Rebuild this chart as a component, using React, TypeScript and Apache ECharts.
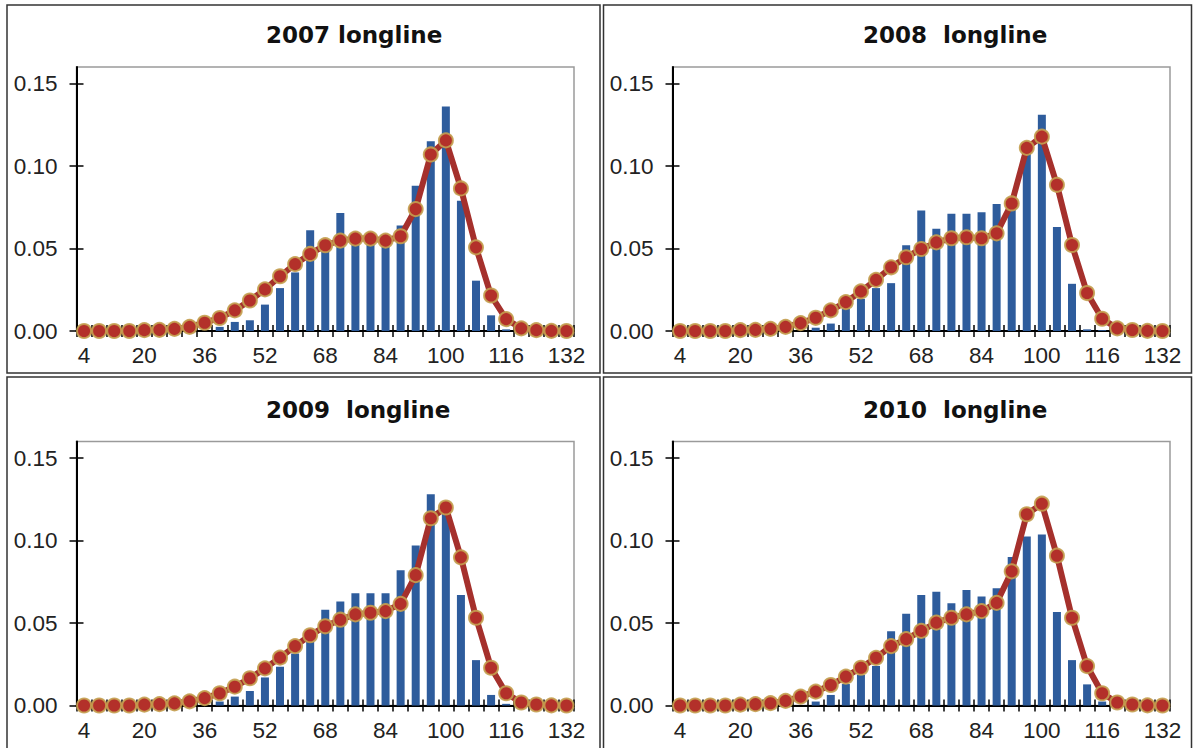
import React, { useEffect, useRef } from "react";
import * as echarts from "echarts";

// Size classes (category axis)
const sizeClasses = [
  "4", "8", "12", "16", "20", "24", "28", "32", "36", "40", "44",
  "48", "52", "56", "60", "64", "68", "72", "76", "80", "84", "88",
  "92", "96", "100", "104", "108", "112", "116", "120", "124", "128", "132",
];

const yTicks = [0, 0.05, 0.1, 0.15];

const panelTitles = ["2007 longline", "2008  longline", "2009  longline", "2010  longline"];

// Observed proportions (bars)
const obs2007 = [
  0, 0, 0, 0, 0, 0, 0, 0, 0, 0.0025, 0.0055,
  0.0065, 0.016, 0.026, 0.0355, 0.061, 0.049, 0.0715, 0.053, 0.053, 0.051, 0.064,
  0.088, 0.115, 0.136, 0.079, 0.0305, 0.0095, 0.001, 0, 0, 0, 0,
];
const obs2008 = [
  0, 0, 0, 0, 0, 0, 0, 0, 0, 0.002, 0.0045,
  0.0135, 0.0195, 0.026, 0.029, 0.052, 0.073, 0.062, 0.071, 0.071, 0.072, 0.077,
  0.074, 0.108, 0.131, 0.063, 0.0286, 0.001, 0.0005, 0, 0, 0, 0,
];
const obs2009 = [
  0, 0, 0, 0, 0, 0, 0, 0, 0, 0.0024, 0.0054,
  0.0088, 0.017, 0.0235, 0.0315, 0.0386, 0.058, 0.063, 0.068, 0.068, 0.068, 0.082,
  0.097, 0.128, 0.116, 0.067, 0.0275, 0.0064, 0.001, 0, 0, 0, 0,
];
const obs2010 = [
  0, 0, 0, 0, 0, 0, 0, 0, 0, 0.0024, 0.0064,
  0.013, 0.0185, 0.024, 0.045, 0.0556, 0.067, 0.069, 0.062, 0.07, 0.066, 0.071,
  0.09, 0.1024, 0.1036, 0.0566, 0.0275, 0.0128, 0.0024, 0, 0, 0, 0,
];

// Predicted proportions (line)
const pred2007 = [
  0, 0, 0, 0, 0.0005, 0.0007, 0.0013, 0.0025, 0.005, 0.0079, 0.0125,
  0.0185, 0.0252, 0.0332, 0.0405, 0.0467, 0.052, 0.0548, 0.056, 0.056, 0.0548, 0.0574,
  0.0739, 0.107, 0.1155, 0.0864, 0.0507, 0.0215, 0.0072, 0.0016, 0.0005, 0.0001, 0,
];
const pred2008 = [
  0, 0, 0, 0, 0.0005, 0.0007, 0.0013, 0.0025, 0.0048, 0.008, 0.0125,
  0.0175, 0.024, 0.031, 0.0386, 0.0447, 0.0497, 0.0537, 0.0562, 0.0568, 0.0562, 0.0592,
  0.0773, 0.111, 0.1178, 0.0886, 0.0521, 0.023, 0.0074, 0.0016, 0.0006, 0.0001, 0,
];
const pred2009 = [
  0, 0, 0, 0, 0.0005, 0.0008, 0.0013, 0.0025, 0.0045, 0.0074, 0.0114,
  0.0165, 0.0225, 0.029, 0.036, 0.0426, 0.048, 0.052, 0.0552, 0.0562, 0.0572, 0.0616,
  0.079, 0.1135, 0.12, 0.0898, 0.0532, 0.0229, 0.0074, 0.0018, 0.0006, 0.0001, 0,
];
const pred2010 = [
  0, 0, 0, 0, 0.0005, 0.0008, 0.0014, 0.0028, 0.0054, 0.0084, 0.0124,
  0.0175, 0.0229, 0.0289, 0.036, 0.0402, 0.0452, 0.0502, 0.0532, 0.0552, 0.0572, 0.0622,
  0.0813, 0.1159, 0.1223, 0.0908, 0.0532, 0.0239, 0.0074, 0.0018, 0.0006, 0.0001, 0,
];

const observed = [obs2007, obs2008, obs2009, obs2010];
const predicted = [pred2007, pred2008, pred2009, pred2010];

// Layout
const gridLefts = [76.5, 672.5, 76.5, 672.5];
const gridTops = [67, 67, 441.5, 441.5];
const gridW = 497.5;
const gridH = 264;
const titleLefts = [266, 863, 266, 863];
const titleTops = [23, 23, 398, 398];
const panelRects = [
  { x: 7, y: 5, width: 593, height: 368 },
  { x: 603.5, y: 5, width: 588, height: 368 },
  { x: 7, y: 377, width: 593, height: 380 },
  { x: 603.5, y: 377, width: 588, height: 380 },
];

const LABEL_FONT = "'Liberation Sans', Arial, sans-serif";
const TITLE_FONT = "'DejaVu Sans', Verdana, sans-serif";

export default function App() {
  const ref = useRef<HTMLDivElement>(null);

  useEffect(() => {
    if (!ref.current) return;
    const chart = echarts.init(ref.current, null, { renderer: "svg" });

    const grids: any[] = [];
    const xAxes: any[] = [];
    const yAxes: any[] = [];
    const series: any[] = [];
    const titles: any[] = [];

    for (let i = 0; i < 4; i++) {
      grids.push({
        left: gridLefts[i],
        top: gridTops[i],
        width: gridW,
        height: gridH,
        show: true,
        borderColor: "#9a9a9a",
        borderWidth: 1.5,
        backgroundColor: "transparent",
        containLabel: false,
      });
      const tickStyle = { color: "#000", width: 1.5 };
      xAxes.push({
        type: "category",
        gridIndex: i,
        data: sizeClasses,
        position: "bottom",
        boundaryGap: true,
        axisLine: { show: true, onZero: false, lineStyle: { color: "#000", width: 2 } },
        axisTick: { show: true, inside: false, length: 6, interval: 0, lineStyle: tickStyle },
        axisLabel: {
          interval: 3,
          margin: 13,
          color: "#222",
          fontFamily: LABEL_FONT,
          fontSize: 22.5,
        },
        splitLine: { show: false },
      });
      xAxes.push({
        type: "category",
        gridIndex: i,
        data: sizeClasses,
        position: "bottom",
        boundaryGap: true,
        axisLine: { show: false, onZero: false },
        axisTick: { show: true, inside: true, length: 6, interval: 0, lineStyle: tickStyle },
        axisLabel: { show: false },
        splitLine: { show: false },
      });
      yAxes.push({
        type: "value",
        gridIndex: i,
        min: 0,
        max: 0.16,
        position: "left",
        axisLine: { show: true, lineStyle: { color: "#000", width: 2 } },
        axisTick: { show: true, inside: false, length: 7, customValues: yTicks, lineStyle: tickStyle },
        axisLabel: {
          customValues: yTicks,
          formatter: (v: number) => v.toFixed(2),
          margin: 19,
          color: "#222",
          fontFamily: LABEL_FONT,
          fontSize: 22.5,
        },
        splitLine: { show: false },
      });
      yAxes.push({
        type: "value",
        gridIndex: i,
        min: 0,
        max: 0.16,
        position: "left",
        axisLine: { show: false },
        axisTick: { show: true, inside: true, length: 7, customValues: yTicks, lineStyle: tickStyle },
        axisLabel: { show: false },
        splitLine: { show: false },
      });
      series.push({
        type: "bar",
        xAxisIndex: 2 * i,
        yAxisIndex: 2 * i,
        data: observed[i],
        barWidth: 8,
        itemStyle: { color: "#2E5C9C" },
        z: 2,
      });
      series.push({
        type: "line",
        xAxisIndex: 2 * i,
        yAxisIndex: 2 * i,
        data: predicted[i],
        symbol: "circle",
        symbolSize: 14,
        showSymbol: true,
        showAllSymbol: true,
        clip: false,
        lineStyle: { color: "#A5302C", width: 6 },
        itemStyle: { color: "#B3302A", borderColor: "rgba(196,160,80,0.9)", borderWidth: 2 },
        z: 3,
      });
      titles.push({
        text: panelTitles[i],
        left: titleLefts[i],
        top: titleTops[i],
        padding: 0,
        textStyle: {
          fontFamily: TITLE_FONT,
          fontWeight: "bold",
          fontSize: 23,
          color: "#111",
        },
      });
    }

    chart.setOption({
      animation: false,
      backgroundColor: "#ffffff",
      title: titles,
      grid: grids,
      xAxis: xAxes,
      yAxis: yAxes,
      series,
      graphic: panelRects.map((r) => ({
        type: "rect",
        shape: r,
        silent: true,
        z: -1,
        style: { fill: "none", stroke: "#333", lineWidth: 1.5 },
      })),
    });

    return () => chart.dispose();
  }, []);

  return (
    <div
      ref={ref}
      style={{ position: "fixed", left: 0, top: 0, width: 1194, height: 748, background: "#fff" }}
    />
  );
}
